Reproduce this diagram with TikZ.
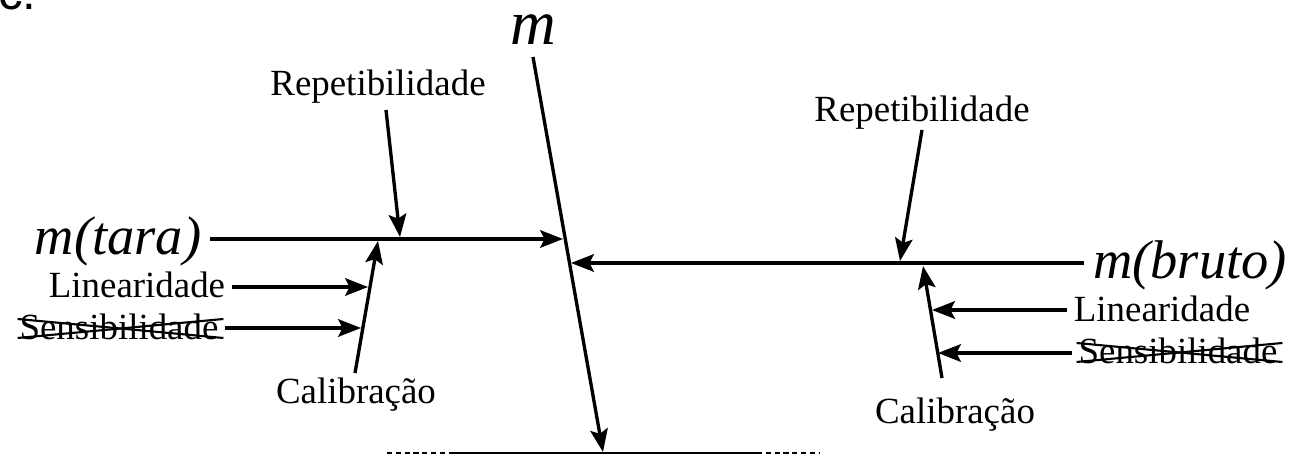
\documentclass[tikz,border=0pt]{standalone}
\usepackage{fontspec}
\setmainfont{Liberation Serif}
\newfontfamily\labelsans{Liberation Sans}
\usetikzlibrary{arrows.meta,calc}
\tikzset{
  txtlabel/.style={
    font=\fontsize{21}{24}\selectfont, anchor=base,
    inner sep=2pt, outer sep=2pt
  },
  masslabel/.style={
    font=\fontsize{31}{34}\selectfont\itshape, anchor=base,
    inner sep=2pt, outer sep=3pt
  },
  flowarrow/.style={
    -{Stealth[length=13pt,width=10pt,inset=2.5pt]}, line width=1.9pt
  },
  strikeline/.style={line width=1.2pt},
  groundline/.style={line width=0.9pt},
}

\begin{document}
\begin{tikzpicture}[x=0.02cm,y=-0.02cm]
  \useasboundingbox (0,0) rectangle (1293,455);
  % letter of the panel, cut by the page edge
  \node[anchor=base west, inner sep=0pt,
        font=\labelsans\fontsize{28}{30}\selectfont] (cmark) at (-2,10) {c.};

  % quantities
  \node[masslabel, font=\fontsize{36}{40}\selectfont\itshape] (mlab) at (533,45) {m};
  \node[masslabel] (tara) at (118,255) {m(tara)};
  \node[masslabel] (bruto) at (1190,279) {m(bruto)};

  % sources of uncertainty
  \node[txtlabel] (repL) at (378,96) {Repetibilidade};
  \node[txtlabel] (linL) at (137,298) {Linearidade};
  \node[txtlabel] (senL) at (119,339) {Sensibilidade};
  \node[txtlabel] (calL) at (356,403) {Calibração};
  \node[txtlabel] (repR) at (922,122) {Repetibilidade};
  \node[txtlabel] (linR) at (1162,322) {Linearidade};
  \node[txtlabel] (senR) at (1178,363) {Sensibilidade};
  \node[txtlabel] (calR) at (955,423) {Calibração};

  % ends of the arrows
  \coordinate (mTop) at (533,57);
  \coordinate (mBot) at (603,452);
  \coordinate (taraTip) at (563,239);
  \coordinate (brutoTip) at (571,263);
  \coordinate (repLfoot) at (386,110);
  \coordinate (repLtip) at (400,237);
  \coordinate (calLfoot) at (355,373);
  \coordinate (calLtip) at (378,241);
  \coordinate (linLtip) at (368,287);
  \coordinate (senLtip) at (361,328);
  \coordinate (repRfoot) at (922,130);
  \coordinate (repRtip) at (900,261);
  \coordinate (calRfoot) at (942,378);
  \coordinate (calRtip) at (923,266);
  \coordinate (linRtip) at (932,310);
  \coordinate (senRtip) at (938,353);

  % main branch
  \draw[flowarrow] (mTop) -- (mBot);
  \draw[flowarrow] (tara.east |- taraTip) -- (taraTip);
  \draw[flowarrow] (bruto.west |- brutoTip) -- (brutoTip);

  % tara side
  \draw[flowarrow] (repLfoot) -- (repLtip);
  \draw[flowarrow] (calLfoot) -- (calLtip);
  \draw[flowarrow] (linL.east |- linLtip) -- (linLtip);
  \draw[flowarrow] (senL.east |- senLtip) -- (senLtip);

  % bruto side
  \draw[flowarrow] (repRfoot) -- (repRtip);
  \draw[flowarrow] (calRfoot) -- (calRtip);
  \draw[flowarrow] (linR.west |- linRtip) -- (linRtip);
  \draw[flowarrow] (senR.west |- senRtip) -- (senRtip);

  % crossed out
  \draw[strikeline] ($(senL.base west)+(5,-20)$) -- ($(senL.base east)+(-2,-1)$);
  \draw[strikeline] ($(senL.base west)+(5,-1)$) -- ($(senL.base east)+(-2,-20)$);
  \draw[strikeline] ($(senR.base west)+(5,-20)$) -- ($(senR.base east)+(-2,-1)$);
  \draw[strikeline] ($(senR.base west)+(5,-1)$) -- ($(senR.base east)+(-2,-20)$);

  % result line
  \coordinate (gndL) at (450,453);
  \coordinate (gndR) at (757,453);
  \coordinate (dashL) at (387,453);
  \coordinate (dashR) at (820,453);
  \draw[groundline] (gndL) -- (gndR);
  \draw[groundline, dash pattern=on 3pt off 2pt] (dashL) -- (gndL) (gndR) -- (dashR);
\end{tikzpicture}
\end{document}
